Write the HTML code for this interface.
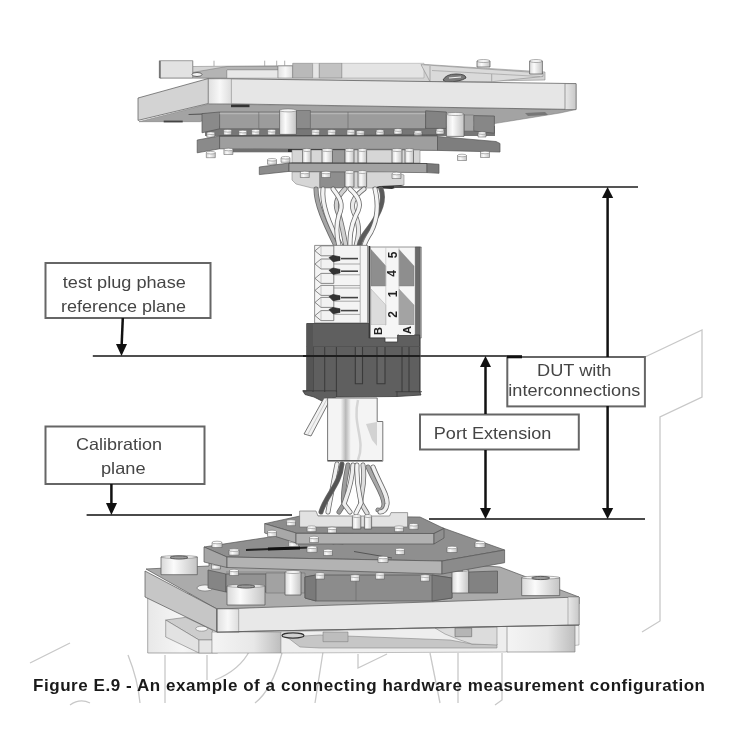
<!DOCTYPE html>
<html><head><meta charset="utf-8">
<style>
html,body{margin:0;padding:0;background:#fff;width:750px;height:750px;overflow:hidden}
svg{position:absolute;left:0;top:0;filter:blur(0.65px)}
.t{font-family:"Liberation Sans",sans-serif;font-size:16.5px;fill:#454545}
.cap{font-family:"Liberation Sans",sans-serif;font-weight:bold;font-size:17px;fill:#1a1a1a}
</style></head><body>
<svg width="750" height="750" viewBox="0 0 750 750">
<g id="wm" fill="none" stroke="#c8c8c8" stroke-width="1.3">
  <path d="M30 663 L70 643"/>
  <path d="M128 655 Q138 680 140 703"/>
  <path d="M165 655 L165 703"/>
  <path d="M207 655 L207 680"/>
  <path d="M215 680 Q240 670 250 650"/>
  <path d="M70 705 Q80 698 90 703"/>
  <path d="M282 653 Q272 690 255 703"/>
  <path d="M323 652 L315 703"/>
  <path d="M358 654 L358 668 L387 654"/>
  <path d="M430 653 L440 703"/>
  <path d="M458 653 L458 703"/>
  <path d="M502 653 L502 700 L495 705"/>
  <path d="M645 357 L702 330 L702 397 L660 417 L660 621 L642 632"/>
</g>
<defs>
<linearGradient id="cyl" x1="0" x2="1" y1="0" y2="0"><stop offset="0" stop-color="#d8d8d8"/><stop offset="0.35" stop-color="#fbfbfb"/><stop offset="1" stop-color="#c4c4c4"/></linearGradient>
<linearGradient id="cylh" x1="0" x2="1" y1="0" y2="0"><stop offset="0" stop-color="#e0e0e0"/><stop offset="0.5" stop-color="#f8f8f8"/><stop offset="1" stop-color="#dddddd"/></linearGradient>
<linearGradient id="cylh2" x1="0" x2="1" y1="0" y2="0"><stop offset="0" stop-color="#e8e8e8"/><stop offset="1" stop-color="#c8c8c8"/></linearGradient>
<linearGradient id="cylh3" x1="0" x2="1" y1="0" y2="0"><stop offset="0" stop-color="#f4f4f4"/><stop offset="0.6" stop-color="#e8e8e8"/><stop offset="1" stop-color="#bdbdbd"/></linearGradient>
<linearGradient id="leg" x1="0" x2="1" y1="0" y2="0"><stop offset="0" stop-color="#e8e8e8"/><stop offset="0.5" stop-color="#f6f6f6"/><stop offset="1" stop-color="#e0e0e0"/></linearGradient>
<linearGradient id="sl" x1="0" x2="1" y1="0" y2="0"><stop offset="0" stop-color="#f4f4f4"/><stop offset="0.5" stop-color="#b8b8b8"/><stop offset="1" stop-color="#f0f0f0"/></linearGradient>
</defs>
<g id="draw" stroke-linejoin="round">
<polygon points="192.7,66.5 424,64.4 545,72 545,80 432,82 192.7,78" fill="#d4d4d4" stroke="#777" stroke-width="0.5"/>
<polygon points="160,78 227,66.5 278,66.5 278,70 227,70 227,78" fill="#b4b4b4" stroke="#777" stroke-width="0.5"/>
<rect x="159.3" y="60.7" width="33.4" height="17.3" fill="#e2e2e2" stroke="#666" stroke-width="0.6"/>
<path d="M160 61 L160 78" fill="none" stroke="#555" stroke-width="1.2"/>
<rect x="227" y="70" width="51" height="8" fill="#e8e8e8" stroke="#888" stroke-width="0.4"/>
<ellipse cx="197" cy="74.5" rx="5" ry="2" fill="#f4f4f4" stroke="#444" stroke-width="0.8"/>
<rect x="278" y="66" width="14.7" height="12" fill="url(#cylh)" stroke="#777" stroke-width="0.5"/>
<rect x="292.7" y="63.3" width="20" height="14.7" fill="#b9b9b9" stroke="#777" stroke-width="0.5"/>
<rect x="312.7" y="63.3" width="6.6" height="14.7" fill="#e6e6e6" stroke="#888" stroke-width="0.4"/>
<rect x="319.3" y="63.3" width="22.7" height="14.7" fill="#c2c2c2" stroke="#777" stroke-width="0.5"/>
<rect x="342" y="63.3" width="82" height="14.7" fill="#e4e4e4" stroke="#888" stroke-width="0.4"/>
<polygon points="421,64.6 543,73 543,76.5 492,81.7 430,81.7" fill="#dadada" stroke="#888" stroke-width="0.6"/>
<path d="M430 66 L430 81.7 M491.7 74 L491.7 81.7" fill="none" stroke="#888" stroke-width="0.6"/>
<path d="M432 70.5 L540 76.5" fill="none" stroke="#a0a0a0" stroke-width="0.7"/>
<path d="M443 80 Q446 74 456 74 Q466 74 466 78 Q460 82 446 82 Z" fill="#7a7a7a" stroke="#333" stroke-width="0.8"/>
<path d="M449 78 L461 77" fill="none" stroke="#f0f0f0" stroke-width="1.2"/>
<rect x="477" y="61" width="13" height="6" fill="url(#cyl)" stroke="#555" stroke-width="0.7"/><ellipse cx="483.5" cy="61" rx="6.5" ry="1.5" fill="#f4f4f4" stroke="#666" stroke-width="0.5"/>
<rect x="529.6" y="61" width="12.8" height="13" fill="url(#cyl)" stroke="#555" stroke-width="0.7"/><ellipse cx="536.0" cy="61" rx="6.4" ry="1.5" fill="#f4f4f4" stroke="#666" stroke-width="0.5"/>
<path d="M192.7 60.7 L192.7 66" fill="none" stroke="#999" stroke-width="0.8"/>
<path d="M214 60.7 L214 66" fill="none" stroke="#999" stroke-width="0.8"/>
<path d="M264.7 60.7 L264.7 66" fill="none" stroke="#999" stroke-width="0.8"/>
<path d="M276.7 60.7 L276.7 66" fill="none" stroke="#999" stroke-width="0.8"/>
<path d="M284.7 60.7 L284.7 66" fill="none" stroke="#999" stroke-width="0.8"/>
<polygon points="139,121.7 209,104 576,109.5 560,113 494.4,123.6 440,117 218,113.6 200.4,121.7" fill="#a3a3a3" stroke="#777" stroke-width="0.5"/>
<path d="M188.6 114.5 L215 113.6" fill="none" stroke="#555" stroke-width="1.2"/>
<polygon points="138,98 208.4,78.5 208.4,103.5 138,120.4" fill="#d3d3d3" stroke="#555" stroke-width="0.7"/>
<polygon points="208.4,78.5 576,83.6 576,109.5 208.4,103.5" fill="#e6e6e6" stroke="#555" stroke-width="0.7"/>
<rect x="208.4" y="78.8" width="23" height="25" fill="url(#cylh)" stroke="#777" stroke-width="0.5"/>
<rect x="565" y="83.6" width="11" height="26" fill="url(#cylh2)" stroke="#666" stroke-width="0.6"/>
<rect x="231" y="104.6" width="18.5" height="2.6" fill="#333" stroke="none"/>
<rect x="163.7" y="120.6" width="19" height="1.8" fill="#444" stroke="none"/>
<polygon points="525,113 545,112 548,115 528,116" fill="#777" stroke="none"/>
<rect x="205" y="126" width="290" height="10" fill="#777" stroke="none"/>
<polygon points="202,113.6 219.6,112 219.6,128.8 202,132.8" fill="#8a8a8a" stroke="#555" stroke-width="0.7"/>
<rect x="219.6" y="112" width="206" height="16.8" fill="#9c9c9c" stroke="#555" stroke-width="0.6"/>
<path d="M219.6 113.5 L425.6 113.5" fill="none" stroke="#b5b5b5" stroke-width="1.5"/>
<path d="M258.8 112 L258.8 128.8" fill="none" stroke="#666" stroke-width="0.6"/>
<path d="M348 112 L348 128.8" fill="none" stroke="#666" stroke-width="0.6"/>
<polygon points="425.6,110.8 446.4,112 446.4,128.4 425.6,128.4" fill="#838383" stroke="#555" stroke-width="0.7"/>
<polygon points="473.6,115.6 494.4,116 494.4,133.2 473.6,131" fill="#878787" stroke="#555" stroke-width="0.7"/>
<rect x="464" y="115" width="9.6" height="16" fill="#a6a6a6" stroke="#666" stroke-width="0.5"/>
<rect x="296.4" y="110.5" width="14" height="18" fill="#8b8b8b" stroke="#555" stroke-width="0.5"/>
<rect x="279.6" y="110.4" width="16.8" height="24" fill="url(#cyl)" stroke="#555" stroke-width="0.7"/><ellipse cx="288.0" cy="110.4" rx="8.4" ry="1.5" fill="#f4f4f4" stroke="#666" stroke-width="0.5"/>
<rect x="446.4" y="114" width="17.6" height="22.4" fill="url(#cyl)" stroke="#555" stroke-width="0.7"/><ellipse cx="455.2" cy="114" rx="8.8" ry="1.5" fill="#f4f4f4" stroke="#666" stroke-width="0.5"/>
<rect x="206.8" y="133.2" width="8" height="4" fill="url(#cyl)" stroke="#555" stroke-width="0.5"/><ellipse cx="210.8" cy="133.2" rx="4.0" ry="1.3" fill="#fafafa" stroke="#666" stroke-width="0.5"/>
<rect x="223.6" y="130.8" width="8" height="4" fill="url(#cyl)" stroke="#555" stroke-width="0.5"/><ellipse cx="227.6" cy="130.8" rx="4.0" ry="1.3" fill="#fafafa" stroke="#666" stroke-width="0.5"/>
<rect x="238.8" y="131.6" width="8" height="4" fill="url(#cyl)" stroke="#555" stroke-width="0.5"/><ellipse cx="242.8" cy="131.6" rx="4.0" ry="1.3" fill="#fafafa" stroke="#666" stroke-width="0.5"/>
<rect x="251.6" y="130.8" width="8" height="4" fill="url(#cyl)" stroke="#555" stroke-width="0.5"/><ellipse cx="255.6" cy="130.8" rx="4.0" ry="1.3" fill="#fafafa" stroke="#666" stroke-width="0.5"/>
<rect x="267.6" y="130.8" width="8" height="4" fill="url(#cyl)" stroke="#555" stroke-width="0.5"/><ellipse cx="271.6" cy="130.8" rx="4.0" ry="1.3" fill="#fafafa" stroke="#666" stroke-width="0.5"/>
<rect x="311.6" y="131.0" width="8" height="4" fill="url(#cyl)" stroke="#555" stroke-width="0.5"/><ellipse cx="315.6" cy="131.0" rx="4.0" ry="1.3" fill="#fafafa" stroke="#666" stroke-width="0.5"/>
<rect x="327.6" y="131.0" width="8" height="4" fill="url(#cyl)" stroke="#555" stroke-width="0.5"/><ellipse cx="331.6" cy="131.0" rx="4.0" ry="1.3" fill="#fafafa" stroke="#666" stroke-width="0.5"/>
<rect x="346.8" y="131.0" width="8" height="4" fill="url(#cyl)" stroke="#555" stroke-width="0.5"/><ellipse cx="350.8" cy="131.0" rx="4.0" ry="1.3" fill="#fafafa" stroke="#666" stroke-width="0.5"/>
<rect x="356.4" y="132.0" width="8" height="4" fill="url(#cyl)" stroke="#555" stroke-width="0.5"/><ellipse cx="360.4" cy="132.0" rx="4.0" ry="1.3" fill="#fafafa" stroke="#666" stroke-width="0.5"/>
<rect x="376.0" y="131.0" width="8" height="4" fill="url(#cyl)" stroke="#555" stroke-width="0.5"/><ellipse cx="380" cy="131.0" rx="4.0" ry="1.3" fill="#fafafa" stroke="#666" stroke-width="0.5"/>
<rect x="394.0" y="130.0" width="8" height="4" fill="url(#cyl)" stroke="#555" stroke-width="0.5"/><ellipse cx="398" cy="130.0" rx="4.0" ry="1.3" fill="#fafafa" stroke="#666" stroke-width="0.5"/>
<rect x="414.0" y="132.0" width="8" height="4" fill="url(#cyl)" stroke="#555" stroke-width="0.5"/><ellipse cx="418" cy="132.0" rx="4.0" ry="1.3" fill="#fafafa" stroke="#666" stroke-width="0.5"/>
<rect x="436.0" y="130.0" width="8" height="4" fill="url(#cyl)" stroke="#555" stroke-width="0.5"/><ellipse cx="440" cy="130.0" rx="4.0" ry="1.3" fill="#fafafa" stroke="#666" stroke-width="0.5"/>
<rect x="478.0" y="133.0" width="8" height="4" fill="url(#cyl)" stroke="#555" stroke-width="0.5"/><ellipse cx="482" cy="133.0" rx="4.0" ry="1.3" fill="#fafafa" stroke="#666" stroke-width="0.5"/>
<polygon points="197.2,140 219.6,136 219.6,148.8 197.2,152.8" fill="#8a8a8a" stroke="#555" stroke-width="0.7"/>
<polygon points="219.6,136 437.5,136 437.5,150.4 219.6,148.8" fill="#9e9e9e" stroke="#555" stroke-width="0.7"/>
<polygon points="437.5,136.5 496,141.5 500,143.5 500,152 437.5,150.4" fill="#7e7e7e" stroke="#555" stroke-width="0.7"/>
<path d="M219.6 136 L437.5 135" fill="none" stroke="#444" stroke-width="0.8"/>
<rect x="224" y="148.8" width="190" height="3.5" fill="#6f6f6f" stroke="none"/>
<rect x="288" y="149" width="60" height="3" fill="#333" stroke="none"/>
<rect x="206.3" y="152.7" width="9" height="5" fill="url(#cyl)" stroke="#555" stroke-width="0.5"/><ellipse cx="210.8" cy="152.7" rx="4.5" ry="1.3" fill="#fafafa" stroke="#666" stroke-width="0.5"/>
<rect x="223.9" y="149.5" width="9" height="5" fill="url(#cyl)" stroke="#555" stroke-width="0.5"/><ellipse cx="228.4" cy="149.5" rx="4.5" ry="1.3" fill="#fafafa" stroke="#666" stroke-width="0.5"/>
<rect x="457.5" y="155.5" width="9" height="5" fill="url(#cyl)" stroke="#555" stroke-width="0.5"/><ellipse cx="462" cy="155.5" rx="4.5" ry="1.3" fill="#fafafa" stroke="#666" stroke-width="0.5"/>
<rect x="480.5" y="152.5" width="9" height="5" fill="url(#cyl)" stroke="#555" stroke-width="0.5"/><ellipse cx="485" cy="152.5" rx="4.5" ry="1.3" fill="#fafafa" stroke="#666" stroke-width="0.5"/>
<rect x="292" y="150" width="128" height="13" fill="#d6d6d6" stroke="#777" stroke-width="0.5"/>
<rect x="332.5" y="150" width="12.5" height="13" fill="#999" stroke="#666" stroke-width="0.5"/>
<rect x="302.6" y="150" width="8.4" height="13" fill="url(#cyl)" stroke="#555" stroke-width="0.7"/><ellipse cx="306.8" cy="150" rx="4.2" ry="1.5" fill="#f4f4f4" stroke="#666" stroke-width="0.5"/>
<rect x="322" y="150" width="10.5" height="13" fill="url(#cyl)" stroke="#555" stroke-width="0.7"/><ellipse cx="327.25" cy="150" rx="5.25" ry="1.5" fill="#f4f4f4" stroke="#666" stroke-width="0.5"/>
<rect x="345" y="150" width="9" height="13" fill="url(#cyl)" stroke="#555" stroke-width="0.7"/><ellipse cx="349.5" cy="150" rx="4.5" ry="1.5" fill="#f4f4f4" stroke="#666" stroke-width="0.5"/>
<rect x="358" y="150" width="8.6" height="13" fill="url(#cyl)" stroke="#555" stroke-width="0.7"/><ellipse cx="362.3" cy="150" rx="4.3" ry="1.5" fill="#f4f4f4" stroke="#666" stroke-width="0.5"/>
<rect x="392" y="150" width="10" height="13" fill="url(#cyl)" stroke="#555" stroke-width="0.7"/><ellipse cx="397.0" cy="150" rx="5.0" ry="1.5" fill="#f4f4f4" stroke="#666" stroke-width="0.5"/>
<rect x="405" y="150" width="8.5" height="13" fill="url(#cyl)" stroke="#555" stroke-width="0.7"/><ellipse cx="409.25" cy="150" rx="4.25" ry="1.5" fill="#f4f4f4" stroke="#666" stroke-width="0.5"/>
<rect x="281.0" y="157.75" width="9" height="4.5" fill="url(#cyl)" stroke="#555" stroke-width="0.5"/><ellipse cx="285.5" cy="157.75" rx="4.5" ry="1.3" fill="#fafafa" stroke="#666" stroke-width="0.5"/>
<rect x="267.5" y="159.75" width="9" height="4.5" fill="url(#cyl)" stroke="#555" stroke-width="0.5"/><ellipse cx="272" cy="159.75" rx="4.5" ry="1.3" fill="#fafafa" stroke="#666" stroke-width="0.5"/>
<polygon points="259.3,167 289,163 289,171.4 259.3,174.6" fill="#8c8c8c" stroke="#555" stroke-width="0.7"/>
<polygon points="289,163 427,163.5 427,172.6 289,171.4" fill="#a3a3a3" stroke="#555" stroke-width="0.7"/>
<polygon points="427,163.5 439,164.3 439,173.3 427,172.6" fill="#7a7a7a" stroke="#555" stroke-width="0.7"/>
<path d="M289 163 L427 163.5" fill="none" stroke="#444" stroke-width="0.8"/>
<polygon points="292,172 396.5,172 404,175 404,185 380,188 312,188 296,184 292,180" fill="#d6d6d6" stroke="#777" stroke-width="0.5"/>
<rect x="319.7" y="172.5" width="25.6" height="15" fill="#8e8e8e" stroke="#555" stroke-width="0.5"/>
<rect x="345" y="172" width="9" height="15" fill="url(#cyl)" stroke="#555" stroke-width="0.7"/><ellipse cx="349.5" cy="172" rx="4.5" ry="1.5" fill="#f4f4f4" stroke="#666" stroke-width="0.5"/>
<rect x="358" y="172" width="8.6" height="15" fill="url(#cyl)" stroke="#555" stroke-width="0.7"/><ellipse cx="362.3" cy="172" rx="4.3" ry="1.5" fill="#f4f4f4" stroke="#666" stroke-width="0.5"/>
<rect x="300.3" y="172.5" width="9" height="5" fill="url(#cyl)" stroke="#555" stroke-width="0.5"/><ellipse cx="304.8" cy="172.5" rx="4.5" ry="1.3" fill="#fafafa" stroke="#666" stroke-width="0.5"/>
<rect x="321.5" y="172.5" width="9" height="5" fill="url(#cyl)" stroke="#555" stroke-width="0.5"/><ellipse cx="326" cy="172.5" rx="4.5" ry="1.3" fill="#fafafa" stroke="#666" stroke-width="0.5"/>
<rect x="392.0" y="173.5" width="9" height="5" fill="url(#cyl)" stroke="#555" stroke-width="0.5"/><ellipse cx="396.5" cy="173.5" rx="4.5" ry="1.3" fill="#fafafa" stroke="#666" stroke-width="0.5"/>
<polygon points="404,185 392,189 372,188 380,186" fill="#333" stroke="none"/>
<path d="M316 189 C316 205 326 225 336 246" fill="none" stroke="#6a6a6a" stroke-width="5.0" stroke-linecap="round"/>
<path d="M316 189 C316 205 326 225 336 246" fill="none" stroke="#a5a5a5" stroke-width="3.4" stroke-linecap="round"/>
<path d="M323 189 C321 207 331 228 341 246" fill="none" stroke="#6a6a6a" stroke-width="5.0" stroke-linecap="round"/>
<path d="M323 189 C321 207 331 228 341 246" fill="none" stroke="#f2f2f2" stroke-width="3.4" stroke-linecap="round"/>
<path d="M345 189 C336 198 334 205 339 215 C343 228 344 238 346 246" fill="none" stroke="#6a6a6a" stroke-width="5.0" stroke-linecap="round"/>
<path d="M345 189 C336 198 334 205 339 215 C343 228 344 238 346 246" fill="none" stroke="#d0d0d0" stroke-width="3.4" stroke-linecap="round"/>
<path d="M333 189 C340 198 344 204 339 215 C335 228 337 238 339 246" fill="none" stroke="#6a6a6a" stroke-width="5.0" stroke-linecap="round"/>
<path d="M333 189 C340 198 344 204 339 215 C335 228 337 238 339 246" fill="none" stroke="#f4f4f4" stroke-width="3.4" stroke-linecap="round"/>
<path d="M364 189 C352 198 350 205 355 215 C361 228 358 238 356 246" fill="none" stroke="#6a6a6a" stroke-width="5.0" stroke-linecap="round"/>
<path d="M364 189 C352 198 350 205 355 215 C361 228 358 238 356 246" fill="none" stroke="#e8e8e8" stroke-width="3.4" stroke-linecap="round"/>
<path d="M350 189 C360 198 362 205 356 215 C350 228 350 238 350 246" fill="none" stroke="#6a6a6a" stroke-width="5.0" stroke-linecap="round"/>
<path d="M350 189 C360 198 362 205 356 215 C350 228 350 238 350 246" fill="none" stroke="#f6f6f6" stroke-width="3.4" stroke-linecap="round"/>
<path d="M381 189 C386 202 378 216 369 228 C363 236 360 240 359 246" fill="none" stroke="#6a6a6a" stroke-width="5.0" stroke-linecap="round"/>
<path d="M381 189 C386 202 378 216 369 228 C363 236 360 240 359 246" fill="none" stroke="#5a5a5a" stroke-width="3.4" stroke-linecap="round"/>
<path d="M375 189 C379 205 377 220 371 232 C367 238 365 242 364 246" fill="none" stroke="#6a6a6a" stroke-width="5.0" stroke-linecap="round"/>
<path d="M375 189 C379 205 377 220 371 232 C367 238 365 242 364 246" fill="none" stroke="#f4f4f4" stroke-width="3.4" stroke-linecap="round"/>
<rect x="314.6" y="245.4" width="53" height="77.6" fill="#f4f4f4" stroke="#666" stroke-width="0.7"/>
<path d="M360.2 246 L360.2 323" fill="none" stroke="#999" stroke-width="0.7"/>
<polygon points="315,250.8 321,245.8 333.8,245.8 333.8,255.8 321,255.8" fill="#f2f2f2" stroke="#5a5a5a" stroke-width="0.7"/>
<path d="M321 245.8 L321 255.8" fill="none" stroke="#999" stroke-width="0.5"/>
<polygon points="315,264 321,259 333.8,259 333.8,269 321,269" fill="#f2f2f2" stroke="#5a5a5a" stroke-width="0.7"/>
<path d="M321 259 L321 269" fill="none" stroke="#999" stroke-width="0.5"/>
<polygon points="315,278.4 321,273.4 333.8,273.4 333.8,283.4 321,283.4" fill="#f2f2f2" stroke="#5a5a5a" stroke-width="0.7"/>
<path d="M321 273.4 L321 283.4" fill="none" stroke="#999" stroke-width="0.5"/>
<polygon points="315,290.4 321,285.4 333.8,285.4 333.8,295.4 321,295.4" fill="#f2f2f2" stroke="#5a5a5a" stroke-width="0.7"/>
<path d="M321 285.4 L321 295.4" fill="none" stroke="#999" stroke-width="0.5"/>
<polygon points="315,302.4 321,297.4 333.8,297.4 333.8,307.4 321,307.4" fill="#f2f2f2" stroke="#5a5a5a" stroke-width="0.7"/>
<path d="M321 297.4 L321 307.4" fill="none" stroke="#999" stroke-width="0.5"/>
<polygon points="315,315.6 321,310.6 333.8,310.6 333.8,320.6 321,320.6" fill="#f2f2f2" stroke="#5a5a5a" stroke-width="0.7"/>
<path d="M321 310.6 L321 320.6" fill="none" stroke="#999" stroke-width="0.5"/>
<path d="M333.8 264 L360 264" fill="none" stroke="#888" stroke-width="0.7"/>
<path d="M333.8 274.8 L360 274.8" fill="none" stroke="#888" stroke-width="0.7"/>
<path d="M333.8 285.6 L360 285.6" fill="none" stroke="#888" stroke-width="0.7"/>
<path d="M333.8 288 L360 288" fill="none" stroke="#888" stroke-width="0.7"/>
<path d="M333.8 301.2 L360 301.2" fill="none" stroke="#888" stroke-width="0.7"/>
<path d="M333.8 314.4 L360 314.4" fill="none" stroke="#888" stroke-width="0.7"/>
<polygon points="329,257.6 333,255.40000000000003 340,256.8 340,260.40000000000003 333,261.8" fill="#333" stroke="#222" stroke-width="0.6"/>
<path d="M341 258.6 L358 258.6" fill="none" stroke="#444" stroke-width="1.6"/>
<polygon points="329,270.2 333,268.0 340,269.4 340,273.0 333,274.4" fill="#333" stroke="#222" stroke-width="0.6"/>
<path d="M341 271.2 L358 271.2" fill="none" stroke="#444" stroke-width="1.6"/>
<polygon points="329,296.6 333,294.40000000000003 340,295.8 340,299.40000000000003 333,300.8" fill="#333" stroke="#222" stroke-width="0.6"/>
<path d="M341 297.6 L358 297.6" fill="none" stroke="#444" stroke-width="1.6"/>
<polygon points="329,309.6 333,307.40000000000003 340,308.8 340,312.40000000000003 333,313.8" fill="#333" stroke="#222" stroke-width="0.6"/>
<path d="M341 310.6 L358 310.6" fill="none" stroke="#444" stroke-width="1.6"/>
<rect x="368.5" y="246" width="1.8" height="92" fill="#333" stroke="none"/>
<rect x="370.3" y="247" width="51" height="91" fill="#f6f6f6" stroke="#555" stroke-width="0.6"/>
<rect x="415.3" y="247" width="5" height="146" fill="#6a6a6a" stroke="#444" stroke-width="0.5"/>
<polygon points="371,249.5 385.8,266 385.8,286 371,286" fill="#8e8e8e" stroke="#777" stroke-width="0.4"/>
<polygon points="399,249.5 414,266 414,286 399,286" fill="#8e8e8e" stroke="#777" stroke-width="0.4"/>
<polygon points="371,289 385.8,305 385.8,325 371,325" fill="#dcdcdc" stroke="#999" stroke-width="0.4"/>
<polygon points="399,289 414,305 414,325 399,325" fill="#a3a3a3" stroke="#888" stroke-width="0.4"/>
<path d="M385.8 247 L385.8 325 M399 247 L399 325" fill="none" stroke="#bbb" stroke-width="0.6"/>
<text x="392.5" y="255" transform="rotate(-90 392.5 255)" text-anchor="middle" dominant-baseline="central" font-family="Liberation Sans" font-weight="bold" font-size="12" fill="#222">5</text>
<text x="392.5" y="273.3" transform="rotate(-90 392.5 273.3)" text-anchor="middle" dominant-baseline="central" font-family="Liberation Sans" font-weight="bold" font-size="12" fill="#222">4</text>
<text x="392.5" y="294" transform="rotate(-90 392.5 294)" text-anchor="middle" dominant-baseline="central" font-family="Liberation Sans" font-weight="bold" font-size="12" fill="#222">1</text>
<text x="392.5" y="314.5" transform="rotate(-90 392.5 314.5)" text-anchor="middle" dominant-baseline="central" font-family="Liberation Sans" font-weight="bold" font-size="12" fill="#222">2</text>
<polygon points="306.7,323.5 368.8,323.5 368.8,338 385,338 385,342 397.6,342 397.6,335 416,335 419.6,335 419.6,391.7 421,395 397,396.5 336.6,397 330,399 322,401 314,397 305,394.5 302.8,390.8 306.7,390.8" fill="#5f5f5f" stroke="#3a3a3a" stroke-width="0.8"/>
<rect x="371" y="325" width="14" height="12" fill="#f5f5f5" stroke="none"/>
<rect x="399" y="325" width="15" height="10" fill="#f5f5f5" stroke="none"/>
<text x="378" y="331" transform="rotate(-90 378 331)" text-anchor="middle" dominant-baseline="central" font-family="Liberation Sans" font-weight="bold" font-size="11" fill="#222">B</text>
<text x="406.5" y="330" transform="rotate(-90 406.5 330)" text-anchor="middle" dominant-baseline="central" font-family="Liberation Sans" font-weight="bold" font-size="11" fill="#222">A</text>
<path d="M313 347 L313 392" fill="none" stroke="#3c3c3c" stroke-width="1.1"/>
<path d="M324.7 347 L324.7 392" fill="none" stroke="#3c3c3c" stroke-width="1.1"/>
<path d="M336.4 347 L336.4 392" fill="none" stroke="#3c3c3c" stroke-width="1.1"/>
<path d="M402 347 L402 392" fill="none" stroke="#3c3c3c" stroke-width="1.1"/>
<path d="M409 347 L409 392" fill="none" stroke="#3c3c3c" stroke-width="1.1"/>
<path d="M355.3 347 L355.3 383.8 L362.5 383.8 L362.5 347" fill="#646464" stroke="#3a3a3a" stroke-width="1.1"/>
<path d="M377 347 L377 383.8 L385 383.8 L385 347" fill="#646464" stroke="#3a3a3a" stroke-width="1.1"/>
<path d="M306.7 346.5 L420 346.5" fill="none" stroke="#505050" stroke-width="0.8"/>
<rect x="307" y="324" width="6" height="67" fill="#555" stroke="none"/>
<path d="M302.8 390.8 L336.6 390.8 L336.6 397 M395.5 391.7 L422 391.7 M397 391.7 L397 396.5" fill="none" stroke="#3a3a3a" stroke-width="0.8"/>
<polygon points="324,398 331,398 311,436 304,434" fill="#f2f2f2" stroke="#555" stroke-width="0.8"/>
<path d="M327.5 398 L307.5 435" fill="none" stroke="#bbb" stroke-width="0.7"/>
<polygon points="327.6,398 377.2,398 377.2,421.5 382.8,421.5 382.8,461.2 327.6,461.2" fill="#f4f4f4" stroke="#555" stroke-width="0.8"/>
<rect x="340.7" y="399" width="10" height="61.5" fill="url(#sl)" stroke="none"/>
<path d="M358 400 C352 425 366 440 358 460" fill="none" stroke="#d5d5d5" stroke-width="2.5"/>
<polygon points="366,424 377,422 377,446 372,440" fill="#d2d2d2" stroke="none"/>
<path d="M328 460.5 L382 460.5" fill="none" stroke="#555" stroke-width="1"/>
<path d="M337 464 C333 485 330 500 328 512" fill="none" stroke="#6a6a6a" stroke-width="5.0" stroke-linecap="round"/>
<path d="M337 464 C333 485 330 500 328 512" fill="none" stroke="#f0f0f0" stroke-width="3.4" stroke-linecap="round"/>
<path d="M342 464 C340 485 326 495 321 512" fill="none" stroke="#6a6a6a" stroke-width="5.0" stroke-linecap="round"/>
<path d="M342 464 C340 485 326 495 321 512" fill="none" stroke="#555555" stroke-width="3.4" stroke-linecap="round"/>
<path d="M348 465 C344 485 342 498 344 504 L339 512" fill="none" stroke="#6a6a6a" stroke-width="5.0" stroke-linecap="round"/>
<path d="M348 465 C344 485 342 498 344 504 L339 512" fill="none" stroke="#9c9c9c" stroke-width="3.4" stroke-linecap="round"/>
<path d="M353 465 C352 485 346 498 344 504 L350 512" fill="none" stroke="#6a6a6a" stroke-width="5.0" stroke-linecap="round"/>
<path d="M353 465 C352 485 346 498 344 504 L350 512" fill="none" stroke="#eeeeee" stroke-width="3.4" stroke-linecap="round"/>
<path d="M363 465 C366 485 360 495 361 503 L367 513" fill="none" stroke="#6a6a6a" stroke-width="5.0" stroke-linecap="round"/>
<path d="M363 465 C366 485 360 495 361 503 L367 513" fill="none" stroke="#dddddd" stroke-width="3.4" stroke-linecap="round"/>
<path d="M357 465 C356 485 360 495 361 503 L356 513" fill="none" stroke="#6a6a6a" stroke-width="5.0" stroke-linecap="round"/>
<path d="M357 465 C356 485 360 495 361 503 L356 513" fill="none" stroke="#f4f4f4" stroke-width="3.4" stroke-linecap="round"/>
<path d="M368 467 C376 485 384 495 384 504 C384 509 381 511 378 510" fill="none" stroke="#6a6a6a" stroke-width="5.0" stroke-linecap="round"/>
<path d="M368 467 C376 485 384 495 384 504 C384 509 381 511 378 510" fill="none" stroke="#a8a8a8" stroke-width="3.4" stroke-linecap="round"/>
<path d="M373 467 C380 485 388 495 387 504 C386 510 383 512 380 512" fill="none" stroke="#6a6a6a" stroke-width="5.0" stroke-linecap="round"/>
<path d="M373 467 C380 485 388 495 387 504 C386 510 383 512 380 512" fill="none" stroke="#f0f0f0" stroke-width="3.4" stroke-linecap="round"/>
<rect x="147.7" y="594" width="70" height="59" fill="url(#leg)" stroke="#777" stroke-width="0.6"/>
<polygon points="165.7,620 185.7,617.3 212.3,630 212.3,640 199,640 165.7,620" fill="#cdcdcd" stroke="#666" stroke-width="0.5"/>
<polygon points="165.7,620 199,640 199,653 165.7,637" fill="#e2e2e2" stroke="#666" stroke-width="0.5"/>
<rect x="199" y="640" width="13.3" height="13" fill="#e6e6e6" stroke="#777" stroke-width="0.5"/>
<ellipse cx="201.7" cy="628.7" rx="6" ry="2.5" fill="#f6f6f6" stroke="#777" stroke-width="0.6"/>
<rect x="212" y="632" width="69.3" height="21" fill="url(#cylh3)" stroke="#777" stroke-width="0.5"/>
<polygon points="281,632 579,624 579,645 505,652 281,653" fill="#eeeeee" stroke="#888" stroke-width="0.5"/>
<polygon points="287,637 320,635 450,640 472,644 497,644 497,648 320,648 300,647" fill="#c6c6c6" stroke="#777" stroke-width="0.5"/>
<polygon points="435,628 497,627 497,645 472,644 460,640 445,634" fill="#dcdcdc" stroke="#777" stroke-width="0.5"/>
<rect x="455" y="628" width="16.7" height="8.7" fill="#b5b5b5" stroke="#666" stroke-width="0.6"/>
<rect x="323" y="632" width="25" height="9.7" fill="#bdbdbd" stroke="#777" stroke-width="0.5"/>
<ellipse cx="293" cy="635.5" rx="11" ry="2.6" fill="#d0d0d0" stroke="#333" stroke-width="1.1"/>
<rect x="507" y="625" width="68" height="27" fill="url(#cylh3)" stroke="#777" stroke-width="0.6"/>
<polygon points="146,569 209,566 209,552 300,552 500,567 579,597 579,604 217,609" fill="#ababab" stroke="#555" stroke-width="0.7"/>
<polygon points="145,571 217,609 217,632 145,597" fill="#c6c6c6" stroke="#555" stroke-width="0.7"/>
<polygon points="217,609 579,597 579,625 217,632" fill="#e8e8e8" stroke="#555" stroke-width="0.7"/>
<rect x="217" y="609" width="21.7" height="23.5" fill="url(#cylh)" stroke="#777" stroke-width="0.5"/>
<rect x="568" y="597" width="11" height="28" fill="url(#cylh2)" stroke="#777" stroke-width="0.5"/>
<path d="M217 609 L217 632" fill="none" stroke="#555" stroke-width="0.8"/>
<path d="M217 632 L579 625" fill="none" stroke="#666" stroke-width="1"/>
<ellipse cx="205" cy="588" rx="8" ry="3" fill="#f4f4f4" stroke="#666" stroke-width="0.6"/>
<rect x="161" y="557" width="36.3" height="17.7" fill="url(#cyl)" stroke="#555" stroke-width="0.7"/><ellipse cx="179.15" cy="557" rx="18.15" ry="1.5" fill="#f4f4f4" stroke="#666" stroke-width="0.5"/>
<ellipse cx="179" cy="557.5" rx="9" ry="1.6" fill="#9a9a9a" stroke="#444" stroke-width="0.8"/>
<rect x="521.7" y="577.6" width="38" height="18" fill="url(#cyl)" stroke="#555" stroke-width="0.7"/><ellipse cx="540.7" cy="577.6" rx="19.0" ry="1.5" fill="#f4f4f4" stroke="#666" stroke-width="0.5"/>
<ellipse cx="540.7" cy="578" rx="9" ry="1.6" fill="#9a9a9a" stroke="#444" stroke-width="0.8"/>
<rect x="226" y="571" width="232" height="6" fill="#9a9a9a" stroke="none"/>
<polygon points="208,570 226,574 226,592 208,588" fill="#858585" stroke="#555" stroke-width="0.7"/>
<polygon points="226,574 266,574 266,592 226,592" fill="#939393" stroke="#555" stroke-width="0.7"/>
<rect x="266" y="573" width="39" height="20" fill="#a2a2a2" stroke="#666" stroke-width="0.5"/>
<polygon points="305,577 316,575 432,575 452,578 452,598 432,601 316,601 305,598" fill="#8c8c8c" stroke="#555" stroke-width="0.7"/>
<polygon points="305,577 316,575 316,601 305,598" fill="#7a7a7a" stroke="#555" stroke-width="0.7"/>
<polygon points="432,575 452,578 452,598 432,601" fill="#7a7a7a" stroke="#555" stroke-width="0.7"/>
<path d="M356 576 L356 601" fill="none" stroke="#666" stroke-width="0.6"/>
<polygon points="468.6,572 497.5,571 497.5,593 468.6,593" fill="#828282" stroke="#555" stroke-width="0.7"/>
<rect x="452" y="570" width="16.6" height="23" fill="url(#cyl)" stroke="#555" stroke-width="0.7"/><ellipse cx="460.3" cy="570" rx="8.3" ry="1.5" fill="#f4f4f4" stroke="#666" stroke-width="0.5"/>
<rect x="285" y="572" width="16" height="23" fill="url(#cyl)" stroke="#555" stroke-width="0.7"/><ellipse cx="293.0" cy="572" rx="8.0" ry="1.5" fill="#f4f4f4" stroke="#666" stroke-width="0.5"/>
<rect x="211.5" y="564.1" width="9" height="5" fill="url(#cyl)" stroke="#555" stroke-width="0.5"/><ellipse cx="216" cy="564.1" rx="4.5" ry="1.3" fill="#fafafa" stroke="#666" stroke-width="0.5"/>
<rect x="229.5" y="570.5" width="9" height="5" fill="url(#cyl)" stroke="#555" stroke-width="0.5"/><ellipse cx="234" cy="570.5" rx="4.5" ry="1.3" fill="#fafafa" stroke="#666" stroke-width="0.5"/>
<rect x="315.5" y="574.0" width="9" height="5" fill="url(#cyl)" stroke="#555" stroke-width="0.5"/><ellipse cx="320" cy="574.0" rx="4.5" ry="1.3" fill="#fafafa" stroke="#666" stroke-width="0.5"/>
<rect x="350.5" y="576.1" width="9" height="5" fill="url(#cyl)" stroke="#555" stroke-width="0.5"/><ellipse cx="355" cy="576.1" rx="4.5" ry="1.3" fill="#fafafa" stroke="#666" stroke-width="0.5"/>
<rect x="375.5" y="574.0" width="9" height="5" fill="url(#cyl)" stroke="#555" stroke-width="0.5"/><ellipse cx="380" cy="574.0" rx="4.5" ry="1.3" fill="#fafafa" stroke="#666" stroke-width="0.5"/>
<rect x="420.5" y="576.1" width="9" height="5" fill="url(#cyl)" stroke="#555" stroke-width="0.5"/><ellipse cx="425" cy="576.1" rx="4.5" ry="1.3" fill="#fafafa" stroke="#666" stroke-width="0.5"/>
<rect x="453.5" y="566.5" width="9" height="5" fill="url(#cyl)" stroke="#555" stroke-width="0.5"/><ellipse cx="458" cy="566.5" rx="4.5" ry="1.3" fill="#fafafa" stroke="#666" stroke-width="0.5"/>
<rect x="227" y="586" width="38" height="19" fill="url(#cyl)" stroke="#555" stroke-width="0.7"/><ellipse cx="246.0" cy="586" rx="19.0" ry="1.5" fill="#f4f4f4" stroke="#666" stroke-width="0.5"/>
<ellipse cx="246" cy="586.5" rx="9" ry="1.6" fill="#9a9a9a" stroke="#444" stroke-width="0.8"/>
<polygon points="204,547 272,536.7 443,528 504.6,550 442,561 227,557" fill="#8f8f8f" stroke="#555" stroke-width="0.7"/>
<polygon points="204,547 227,557 227,567.5 204,562" fill="#a6a6a6" stroke="#555" stroke-width="0.7"/>
<polygon points="227,557 442,561 442,574 227,567.5" fill="#b3b3b3" stroke="#555" stroke-width="0.7"/>
<polygon points="442,561 504.6,550 504.6,562.7 442,574" fill="#8b8b8b" stroke="#555" stroke-width="0.7"/>
<path d="M246 550 L310 547.5" fill="none" stroke="#222" stroke-width="2"/>
<path d="M268 549 L300 548" fill="none" stroke="#111" stroke-width="2.8"/>
<path d="M354 551.5 L392 558" fill="none" stroke="#555" stroke-width="1"/>
<rect x="212.0" y="542.5" width="10" height="5" fill="url(#cyl)" stroke="#555" stroke-width="0.5"/><ellipse cx="217" cy="542.5" rx="5.0" ry="1.3" fill="#fafafa" stroke="#666" stroke-width="0.5"/>
<rect x="229.0" y="550.1" width="10" height="5" fill="url(#cyl)" stroke="#555" stroke-width="0.5"/><ellipse cx="234" cy="550.1" rx="5.0" ry="1.3" fill="#fafafa" stroke="#666" stroke-width="0.5"/>
<rect x="288.6" y="541.5" width="10" height="5" fill="url(#cyl)" stroke="#555" stroke-width="0.5"/><ellipse cx="293.6" cy="541.5" rx="5.0" ry="1.3" fill="#fafafa" stroke="#666" stroke-width="0.5"/>
<rect x="307.0" y="547.3" width="10" height="5" fill="url(#cyl)" stroke="#555" stroke-width="0.5"/><ellipse cx="312" cy="547.3" rx="5.0" ry="1.3" fill="#fafafa" stroke="#666" stroke-width="0.5"/>
<rect x="378.0" y="557.5" width="10" height="5" fill="url(#cyl)" stroke="#555" stroke-width="0.5"/><ellipse cx="383" cy="557.5" rx="5.0" ry="1.3" fill="#fafafa" stroke="#666" stroke-width="0.5"/>
<rect x="447.0" y="547.5" width="10" height="5" fill="url(#cyl)" stroke="#555" stroke-width="0.5"/><ellipse cx="452" cy="547.5" rx="5.0" ry="1.3" fill="#fafafa" stroke="#666" stroke-width="0.5"/>
<rect x="475.0" y="542.5" width="10" height="5" fill="url(#cyl)" stroke="#555" stroke-width="0.5"/><ellipse cx="480" cy="542.5" rx="5.0" ry="1.3" fill="#fafafa" stroke="#666" stroke-width="0.5"/>
<rect x="333.0" y="539.5" width="10" height="5" fill="url(#cyl)" stroke="#555" stroke-width="0.5"/><ellipse cx="338" cy="539.5" rx="5.0" ry="1.3" fill="#fafafa" stroke="#666" stroke-width="0.5"/>
<polygon points="264.7,523.7 300,516 420,517 444,528.5 434,533.5 296,533" fill="#8c8c8c" stroke="#555" stroke-width="0.7"/>
<polygon points="264.7,523.7 296,533 296,543 264.7,533" fill="#a8a8a8" stroke="#555" stroke-width="0.7"/>
<polygon points="296,533.5 434,533.5 434,544 296,544" fill="#b1b1b1" stroke="#555" stroke-width="0.7"/>
<polygon points="434,533.5 444,528.5 444,538 434,544" fill="#8f8f8f" stroke="#555" stroke-width="0.7"/>
<polygon points="299.6,511 316,511 318,516 389.6,516 391,512.6 407.6,512.6 407.6,527 299.6,527" fill="#e2e2e2" stroke="#666" stroke-width="0.6"/>
<rect x="286.5" y="521.15" width="9" height="4.5" fill="url(#cyl)" stroke="#555" stroke-width="0.5"/><ellipse cx="291" cy="521.15" rx="4.5" ry="1.3" fill="#fafafa" stroke="#666" stroke-width="0.5"/>
<rect x="307.1" y="527.15" width="9" height="4.5" fill="url(#cyl)" stroke="#555" stroke-width="0.5"/><ellipse cx="311.6" cy="527.15" rx="4.5" ry="1.3" fill="#fafafa" stroke="#666" stroke-width="0.5"/>
<rect x="327.5" y="528.35" width="9" height="4.5" fill="url(#cyl)" stroke="#555" stroke-width="0.5"/><ellipse cx="332" cy="528.35" rx="4.5" ry="1.3" fill="#fafafa" stroke="#666" stroke-width="0.5"/>
<rect x="394.5" y="527.15" width="9" height="4.5" fill="url(#cyl)" stroke="#555" stroke-width="0.5"/><ellipse cx="399" cy="527.15" rx="4.5" ry="1.3" fill="#fafafa" stroke="#666" stroke-width="0.5"/>
<rect x="409.1" y="524.75" width="9" height="4.5" fill="url(#cyl)" stroke="#555" stroke-width="0.5"/><ellipse cx="413.6" cy="524.75" rx="4.5" ry="1.3" fill="#fafafa" stroke="#666" stroke-width="0.5"/>
<rect x="352.4" y="516" width="8.4" height="13" fill="url(#cyl)" stroke="#555" stroke-width="0.7"/><ellipse cx="356.59999999999997" cy="516" rx="4.2" ry="1.5" fill="#f4f4f4" stroke="#666" stroke-width="0.5"/>
<rect x="364.4" y="516" width="7.2" height="13" fill="url(#cyl)" stroke="#555" stroke-width="0.7"/><ellipse cx="368.0" cy="516" rx="3.6" ry="1.5" fill="#f4f4f4" stroke="#666" stroke-width="0.5"/>
<rect x="267.5" y="531.5" width="9" height="5" fill="url(#cyl)" stroke="#555" stroke-width="0.5"/><ellipse cx="272" cy="531.5" rx="4.5" ry="1.3" fill="#fafafa" stroke="#666" stroke-width="0.5"/>
<rect x="309.5" y="537.5" width="9" height="5" fill="url(#cyl)" stroke="#555" stroke-width="0.5"/><ellipse cx="314" cy="537.5" rx="4.5" ry="1.3" fill="#fafafa" stroke="#666" stroke-width="0.5"/>
<rect x="323.5" y="550.5" width="9" height="5" fill="url(#cyl)" stroke="#555" stroke-width="0.5"/><ellipse cx="328" cy="550.5" rx="4.5" ry="1.3" fill="#fafafa" stroke="#666" stroke-width="0.5"/>
<rect x="395.5" y="549.5" width="9" height="5" fill="url(#cyl)" stroke="#555" stroke-width="0.5"/><ellipse cx="400" cy="549.5" rx="4.5" ry="1.3" fill="#fafafa" stroke="#666" stroke-width="0.5"/>
</g>
<g id="labels">
  <rect x="45.5" y="263" width="165" height="55" fill="#fff" stroke="#666" stroke-width="2"/>
  <text class="t" x="62.8" y="287.6" textLength="123" lengthAdjust="spacingAndGlyphs">test plug phase</text>
  <text class="t" x="61" y="311.9" textLength="125" lengthAdjust="spacingAndGlyphs">reference plane</text>
  <rect x="45.5" y="426.5" width="159" height="57.5" fill="#fff" stroke="#666" stroke-width="2"/>
  <text class="t" x="76" y="450.4" textLength="86" lengthAdjust="spacingAndGlyphs">Calibration</text>
  <text class="t" x="101" y="474.4" textLength="44.5" lengthAdjust="spacingAndGlyphs">plane</text>
  <rect x="507.3" y="357" width="137.6" height="49.4" fill="#fff" stroke="#666" stroke-width="2"/>
  <text class="t" x="537" y="375.5" textLength="74.5" lengthAdjust="spacingAndGlyphs">DUT with</text>
  <text class="t" x="508.3" y="396.3" textLength="132" lengthAdjust="spacingAndGlyphs">interconnections</text>
  <rect x="420" y="414.5" width="158.8" height="35" fill="#fff" stroke="#666" stroke-width="2"/>
  <text class="t" x="433.8" y="438.7" textLength="117.5" lengthAdjust="spacingAndGlyphs">Port Extension</text>
</g>
<g id="lines" stroke="#333" fill="none">
  <path d="M92.8 356 L522 356" stroke-width="2" stroke="#4f4f4f"/>
  <path d="M507 357 L522 357" stroke-width="2.6" stroke="#111"/>
  <path d="M303 356 L420 356" stroke-width="2" stroke="#1e1e1e"/>
  <path d="M86.6 515 L292 515" stroke-width="2" stroke="#4a4a4a"/>
  <path d="M429 519 L645 519" stroke-width="2" stroke="#4a4a4a"/>
  <path d="M394 187 L638 187" stroke-width="2" stroke="#555"/>
  <path d="M122.8 318 L121.6 346" stroke-width="2.5" stroke="#111"/>
  <path d="M111.4 484 L111.4 504" stroke-width="2.5" stroke="#111"/>
  <path d="M485.5 366 L485.5 414" stroke-width="2.5" stroke="#111"/>
  <path d="M485.5 450 L485.5 509" stroke-width="2.5" stroke="#111"/>
  <path d="M607.6 197 L607.6 357" stroke-width="2.5" stroke="#111"/>
  <path d="M607.6 406 L607.6 509" stroke-width="2.5" stroke="#111"/>
</g>
<g id="heads" fill="#111">
  <path d="M116 344 L127 344 L121.5 356 Z"/>
  <path d="M106 503 L117 503 L111.4 515 Z"/>
  <path d="M480 367 L491 367 L485.5 356 Z"/>
  <path d="M480 508 L491 508 L485.5 519 Z"/>
  <path d="M602 198 L613.2 198 L607.6 187 Z"/>
  <path d="M602 508 L613.2 508 L607.6 519 Z"/>
</g>
<text class="cap" x="33" y="690.6" textLength="672" lengthAdjust="spacing">Figure E.9 - An example of a connecting hardware measurement configuration</text>
</svg>
</body></html>
